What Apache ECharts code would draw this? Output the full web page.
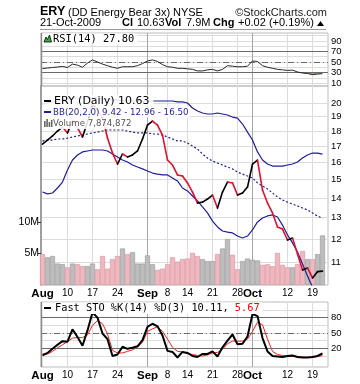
<!DOCTYPE html>
<html><head><meta charset="utf-8">
<script src="https://cdn.jsdelivr.net/npm/echarts@6/dist/echarts.min.js"></script>
<style>html,body{margin:0;padding:0;background:#fff}#c{width:360px;height:384px}</style>
</head><body><div id="c"></div>
<script>
// ---------- data ----------
const dates = ["Aug 3","Aug 4","Aug 5","Aug 6","Aug 7","Aug 10","Aug 11","Aug 12","Aug 13","Aug 14",
 "Aug 17","Aug 18","Aug 19","Aug 20","Aug 21","Aug 24","Aug 25","Aug 26","Aug 27","Aug 28","Aug 31",
 "Sep 1","Sep 2","Sep 3","Sep 4","Sep 8","Sep 9","Sep 10","Sep 11","Sep 14","Sep 15","Sep 16","Sep 17","Sep 18",
 "Sep 21","Sep 22","Sep 23","Sep 24","Sep 25","Sep 28","Sep 29","Sep 30",
 "Oct 1","Oct 2","Oct 5","Oct 6","Oct 7","Oct 8","Oct 9","Oct 12","Oct 13","Oct 14","Oct 15","Oct 16","Oct 19","Oct 20","Oct 21"];
const prevClose = 17.30;
const close = [17.14,17.40,17.67,18.00,18.27,17.87,18.70,18.21,17.60,18.62,
 19.92,19.48,18.90,17.53,16.57,15.90,16.51,16.33,16.45,16.70,
 17.47,18.41,18.69,18.41,17.73,16.14,15.84,15.26,15.20,14.81,
 14.31,13.73,13.78,13.94,14.15,13.48,14.31,14.86,14.81,14.15,
 14.26,14.58,15.90,16.14,14.42,13.73,13.23,12.55,12.45,11.95,
 12.04,11.34,10.68,10.76,10.36,10.61,10.63];
const bbUpper = [19.92,20.00,20.08,20.15,20.23,20.30,20.38,20.38,20.38,20.38,
 20.38,20.38,20.30,20.30,20.23,20.23,20.15,20.15,20.15,20.15,
 20.15,20.15,20.15,20.15,20.15,20.15,20.15,20.08,20.08,20.00,
 19.63,19.41,19.26,19.19,19.19,19.26,19.19,19.12,18.97,18.90,
 18.48,17.93,17.40,16.64,16.14,15.90,15.78,15.78,15.78,15.84,
 15.90,16.02,16.26,16.45,16.57,16.57,16.50];
const bbMid = [17.34,17.40,17.40,17.47,17.47,17.53,17.60,17.67,17.73,17.80,
 17.87,17.93,18.00,18.07,18.07,18.07,18.07,18.00,17.93,17.87,
 17.87,17.87,17.80,17.80,17.73,17.60,17.47,17.34,17.34,17.21,
 17.01,16.82,16.51,16.26,16.08,15.96,15.84,15.72,15.61,15.43,
 15.31,15.20,15.09,14.81,14.64,14.48,14.26,14.05,13.89,13.78,
 13.68,13.58,13.48,13.38,13.23,13.08,12.96];
const bbLower = [14.31,14.21,14.26,14.53,14.86,15.55,16.14,16.45,16.64,16.70,
 16.76,16.76,16.76,16.70,16.51,16.33,16.14,16.02,15.84,15.72,
 15.61,15.49,15.37,15.31,15.26,15.26,15.09,14.92,14.53,14.37,
 14.10,13.84,13.53,13.23,12.83,12.55,12.36,12.31,12.27,12.13,
 12.04,12.13,12.41,12.79,12.98,13.08,13.13,13.03,12.64,12.18,
 11.82,11.42,10.92,10.44,10.01,9.68,9.42];
const volumeM = [4.9,4.4,4.6,3.4,3.3,2.8,3.4,3.3,3.0,3.0,
 3.4,2.5,4.6,2.6,4.1,4.6,5.8,4.9,5.2,3.4,
 3.4,4.7,3.3,2.4,2.6,3.3,4.4,3.7,4.1,4.2,
 5.1,4.6,4.1,3.8,3.8,4.9,5.8,7.3,4.8,2.5,
 3.8,4.2,4.0,3.9,3.2,3.3,3.0,5.1,3.2,2.8,
 2.8,3.3,5.4,4.1,4.1,4.9,7.874872];
const rsi = [37.5,38.5,39.5,40.5,41.5,39.5,46,44,40,48,
 54,50,46,43,40,38,41,41,41,43,
 47,52,54,51,45,41,40,38,38,37,
 36,33,33,35,36,33,36,43,42,41,
 41,42,52,51,43,40,38,36,35,34,
 34.5,31,29,28,26,27,27.8];
const stoK = [6,11,19,27,34,33,57,42,25,55,
 90,80,49,38,5,8,23,19,21,24,
 36,62,68,63,45,15,13,2,13,11,
 5,3,9,9,14,4,22,35,47,28,
 29,43,87,83,40,14,5,4,3,5,
 6,3,2,2,3,5,10.11];
const stoD = [9,9,14,21,27,33,40,41,41,46,
 65,74,68,48,16,11,11,14,17,22,
 32,53,58,62,53,38,22,14,13,10,
 8,6,5,7,11,12,18,29,34,34,
 34,38,53,71,66,38,14,8,6,4,
 4,4,3,2,3,4,5.67];
const tickDates  = ["Aug 3","Aug 10","Aug 17","Aug 24","Sep 1","Sep 8","Sep 14","Sep 21","Sep 28","Oct 1","Oct 12","Oct 19"];
const tickLabels = ["Aug","10","17","24","Sep","8","14","21","28","Oct","12","19"];
const priceTicks = [11,12,13,14,15,16,17,18,19,20];
const rsiTicks = [10,30,50,70,90];
const rsiGridLines = [10,20,30,40,50,60,70,80,90,100];
const stoTicks = [20,50,80];
const stoGridLines = [5,20,35,50,65,80,95];
const volTicksM = [5,10];

// ---------- chart ----------
const chart = echarts.init(document.getElementById('c'), null, {width:360, height:384});
const tickIdx = tickDates.map(d => dates.indexOf(d));
const pair = arr => arr.map((v, i) => [i, v]);
const XMIN = -0.3, XMAX = 57.1;
const LIGHT = '#dcdcdc', MONTH = '#a6a6a6', DARK = '#6a6a6a';
const NAVY = '#1e1e9a', RED = '#e0102e';
const SANS = 'Liberation Sans, Arial, sans-serif';
const VER = 'DejaVu Sans, Verdana, sans-serif';
const MONO = 'DejaVu Sans Mono, Liberation Mono, monospace';
const xSplitColors = tickLabels.map((t, k) => k === 0 ? 'rgba(0,0,0,0)' : (/^[A-Z]/.test(t) ? MONTH : LIGHT));
const last = a => a[a.length - 1];

function xAxis(gi, labels) {
  return {
    type: 'value', gridIndex: gi, min: XMIN, max: XMAX,
    axisLine: {show: false},
    axisTick: {show: false, customValues: tickIdx},
    axisLabel: {
      show: labels, customValues: tickIdx, margin: 3,
      formatter: v => { const t = tickLabels[tickIdx.indexOf(v)]; return /^[A-Z]/.test(t) ? '{m|' + t + '}' : '{d|' + t + '}'; },
      rich: {m: {fontFamily: SANS, fontWeight: 'bold', fontSize: 11.5, color: '#000'},
             d: {fontFamily: SANS, fontSize: 10, color: '#000'}}
    },
    splitLine: {show: true, lineStyle: {color: xSplitColors, width: 1}}
  };
}
function refLines(vals) {
  return {silent: true, symbol: 'none', label: {show: false}, animation: false,
    data: vals.map(v => ({yAxis: v, lineStyle: {color: DARK, width: 1, type: v === 50 ? [6, 3, 1, 3] : 'solid'}}))};
}
const PINK = {color: '#efb8c0', borderColor: '#d8909b', borderWidth: 0.6};
const GREY = {color: '#bdbdbd', borderColor: '#959595', borderWidth: 0.6};
const gridBase = {left: 41, right: 32, show: true, borderColor: '#bcbcbc', borderWidth: 1, backgroundColor: 'transparent'};
const rightLabel = {margin: 3, fontFamily: SANS, fontSize: 9.5, color: '#000'};
const hdr = (x, y, text, bold, extra) => ({type: 'text', x, y, z: 100,
  style: Object.assign({text, font: (bold ? 'bold ' : '') + '11px ' + SANS, fill: '#000', verticalAlign: 'middle'}, extra || {})});

const option = {
  animation: false,
  grid: [
    Object.assign({top: 33, height: 53}, gridBase),
    Object.assign({top: 86, height: 199}, gridBase),
    Object.assign({top: 302, height: 65}, gridBase)
  ],
  xAxis: [xAxis(0, false), xAxis(1, true), xAxis(2, true)],
  yAxis: [
    {gridIndex: 0, type: 'value', position: 'right', min: 4.3, max: 105.2,
     axisLine: {show: false}, axisTick: {show: false, customValues: rsiGridLines},
     axisLabel: Object.assign({customValues: rsiTicks}, rightLabel),
     splitLine: {show: true, lineStyle: {color: LIGHT}}},
    {gridIndex: 1, type: 'log', logBase: 10, position: 'right', min: 10.09, max: 21.32,
     axisLine: {show: false}, axisTick: {show: false, customValues: priceTicks},
     axisLabel: Object.assign({customValues: priceTicks}, rightLabel),
     splitLine: {show: true, lineStyle: {color: LIGHT}}},
    {gridIndex: 1, type: 'value', position: 'left', min: 0, max: 31.6,
     axisLine: {show: true, lineStyle: {color: '#8a8a8a', width: 1.5}},
     axisTick: {show: true, customValues: volTicksM, length: 3, lineStyle: {color: '#333'}},
     axisLabel: {customValues: volTicksM, formatter: v => v + 'M', margin: 2, fontFamily: SANS, fontSize: 10.5, color: '#000'},
     splitLine: {show: false}},
    {gridIndex: 2, type: 'value', position: 'right', min: -16.5, max: 110.5,
     axisLine: {show: false}, axisTick: {show: false, customValues: stoGridLines},
     axisLabel: Object.assign({customValues: stoTicks}, rightLabel),
     splitLine: {show: true, lineStyle: {color: LIGHT}}}
  ],
  series: [
    {type: 'line', xAxisIndex: 0, yAxisIndex: 0, data: pair(rsi.map(v => Math.min(v, 30))),
     symbol: 'none', lineStyle: {width: 0}, areaStyle: {origin: 30, color: '#c58a8a', opacity: 1}, z: 3, silent: true},
    {type: 'line', xAxisIndex: 0, yAxisIndex: 0, data: pair(rsi), symbol: 'none',
     lineStyle: {color: '#262626', width: 1}, z: 5, markLine: refLines([30, 50, 70])},
    {type: 'bar', xAxisIndex: 1, yAxisIndex: 2, barWidth: 5, z: 1,
     data: volumeM.map((v, i) => ({value: [i, v], itemStyle: close[i] < (i ? close[i - 1] : prevClose) ? PINK : GREY}))},
    {type: 'line', xAxisIndex: 1, yAxisIndex: 1, data: pair(bbUpper), symbol: 'none', lineStyle: {color: NAVY, width: 1.2}, z: 4},
    {type: 'line', xAxisIndex: 1, yAxisIndex: 1, data: pair(bbLower), symbol: 'none', lineStyle: {color: NAVY, width: 1.2}, z: 4},
    {type: 'line', xAxisIndex: 1, yAxisIndex: 1, data: pair(bbMid), symbol: 'none', lineStyle: {color: NAVY, width: 1.2, type: [2, 2]}, z: 4},
    {type: 'custom', xAxisIndex: 1, yAxisIndex: 1, data: pair(close), encode: {x: 0, y: 1}, z: 6, clip: true,
     renderItem: (params, api) => {
       const i = params.dataIndex;
       if (i === 0) return null;
       const a = api.coord([i - 1, close[i - 1]]);
       const b = api.coord([i, close[i]]);
       return {type: 'line', shape: {x1: a[0], y1: a[1], x2: b[0], y2: b[1]},
               style: {stroke: close[i] >= close[i - 1] ? '#000' : RED, lineWidth: 1.6, lineCap: 'round'}};
     }},
    {type: 'line', xAxisIndex: 2, yAxisIndex: 3, data: pair(stoD), symbol: 'none', lineStyle: {color: '#ff1a1a', width: 1}, z: 4,
     markLine: refLines([20, 50, 80])},
    {type: 'line', xAxisIndex: 2, yAxisIndex: 3, data: pair(stoK), symbol: 'none', lineStyle: {color: '#000', width: 2}, z: 5}
  ],
  graphic: [
    // header
    {type: 'text', x: 40, y: 12, z: 100, style: {text: 'ERY', font: 'bold 12.5px ' + SANS, fill: '#000', verticalAlign: 'middle'}},
    hdr(68, 13, '(DD Energy Bear 3x)', false),
    hdr(173, 13, 'NYSE', false),
    hdr(327, 13, '©StockCharts.com', false, {fill: '#222', align: 'right'}),
    hdr(40, 23, last(dates).replace(/(\w+) (\d+)/, '$2-$1') + '-2009', false),
    hdr(122, 23, 'Cl', true),
    hdr(137, 23, last(close).toFixed(2), false),
    hdr(165, 23, 'Vol', true),
    hdr(186, 23, last(volumeM).toFixed(1) + 'M', false),
    hdr(213, 23, 'Chg', true),
    hdr(238, 23, '+0.02 (+0.19%)', false),
    {type: 'polygon', z: 100, shape: {points: [[317, 26], [320.5, 21], [324, 26]]}, style: {fill: '#000'}},
    {type: 'line', z: 100, shape: {x1: 40, y1: 29.5, x2: 326, y2: 29.5}, style: {stroke: '#9a9a9a', lineWidth: 1}},
    // left panel edges
    {type: 'line', z: 90, shape: {x1: 41.5, y1: 33, x2: 41.5, y2: 86}, style: {stroke: '#8a8a8a', lineWidth: 1.5}},
    {type: 'line', z: 90, shape: {x1: 41.5, y1: 302, x2: 41.5, y2: 367}, style: {stroke: '#8a8a8a', lineWidth: 1.5}},
    // RSI label
    {type: 'rect', z: 95, shape: {x: 42.5, y: 33.5, width: 95, height: 11}, style: {fill: '#fff'}},
    {type: 'polygon', z: 100, shape: {points: [[44, 42], [46, 37], [47.5, 39.5], [49.5, 35], [51.5, 42]]}, style: {fill: '#3fae3f', stroke: '#000', lineWidth: 0.8}},
    {type: 'text', x: 53, y: 39, z: 100, style: {text: 'RSI(14) ' + last(rsi).toFixed(2), font: '10.4px ' + MONO, fill: '#000', verticalAlign: 'middle'}},
    // main legend
    {type: 'rect', z: 95, shape: {x: 42.5, y: 95, width: 111, height: 11.5}, style: {fill: 'rgba(255,255,255,0.88)'}},
    {type: 'rect', z: 95, shape: {x: 42.5, y: 106.5, width: 147, height: 11}, style: {fill: 'rgba(255,255,255,0.88)'}},
    {type: 'rect', z: 95, shape: {x: 42.5, y: 117.5, width: 89, height: 11.5}, style: {fill: 'rgba(255,255,255,0.88)'}},
    {type: 'line', z: 100, shape: {x1: 44, y1: 101, x2: 51, y2: 101}, style: {stroke: '#000', lineWidth: 2}},
    {type: 'text', x: 54, y: 101, z: 100, style: {text: 'ERY (Daily) ' + last(close).toFixed(2), font: '11px ' + VER, fill: '#000', verticalAlign: 'middle'}},
    {type: 'line', z: 100, shape: {x1: 44, y1: 112, x2: 51, y2: 112}, style: {stroke: NAVY, lineWidth: 2}},
    {type: 'text', x: 53, y: 112.5, z: 100, style: {text: 'BB(20,2.0) ' + last(bbLower).toFixed(2) + ' - ' + last(bbMid).toFixed(2) + ' - ' + last(bbUpper).toFixed(2), font: '8.7px ' + VER, fill: NAVY, verticalAlign: 'middle'}},
    {type: 'rect', z: 100, shape: {x: 44, y: 121, width: 1.6, height: 6}, style: {fill: '#666'}},
    {type: 'rect', z: 100, shape: {x: 46.3, y: 119, width: 1.6, height: 8}, style: {fill: '#666'}},
    {type: 'rect', z: 100, shape: {x: 48.6, y: 122, width: 1.6, height: 5}, style: {fill: '#666'}},
    {type: 'rect', z: 100, shape: {x: 50.9, y: 120, width: 1.6, height: 7}, style: {fill: '#666'}},
    {type: 'text', x: 53, y: 123.5, z: 100, style: {text: 'Volume ' + Math.round(last(volumeM) * 1e6).toLocaleString('en-US'), font: '8.6px ' + VER, fill: '#555', verticalAlign: 'middle'}},
    // STO label
    {type: 'rect', z: 95, shape: {x: 42.5, y: 302.5, width: 220, height: 11.5}, style: {fill: '#fff'}},
    {type: 'line', z: 100, shape: {x1: 44, y1: 308, x2: 51, y2: 308}, style: {stroke: '#000', lineWidth: 2}},
    {type: 'text', x: 55, y: 308, z: 100, style: {text: '{k|Fast STO %K(14) %D(3) ' + last(stoK).toFixed(2) + ', }{d|' + last(stoD).toFixed(2) + '}',
      rich: {k: {font: '10.3px ' + MONO, fill: '#000'}, d: {font: '10.3px ' + MONO, fill: '#ff0000'}}, verticalAlign: 'middle'}}
  ]
};
chart.setOption(option);
</script>
</body></html>
